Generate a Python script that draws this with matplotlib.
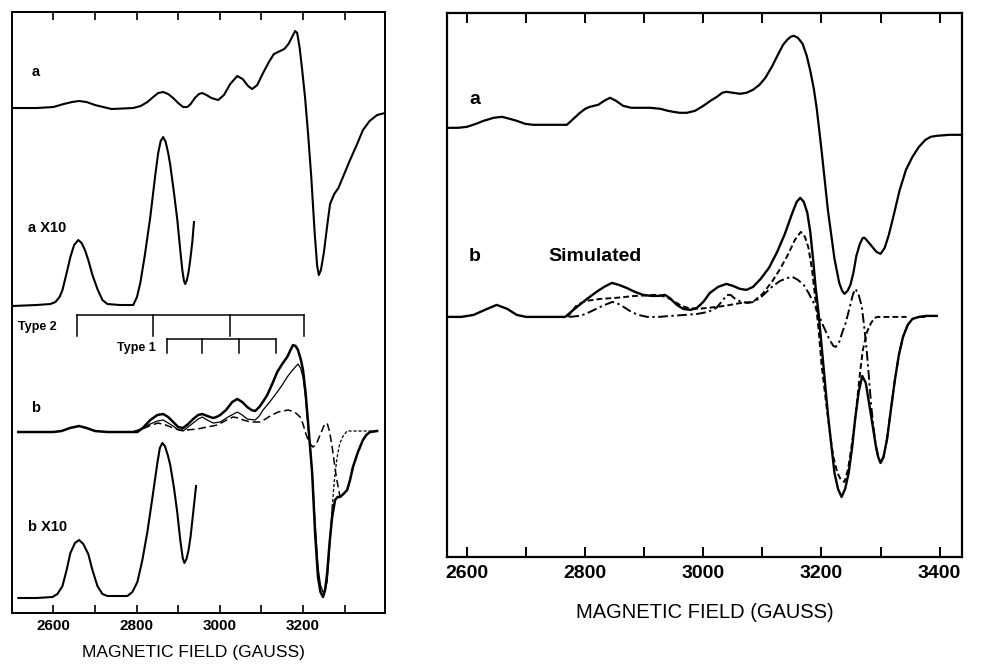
import matplotlib
matplotlib.use("Agg")
import matplotlib.pyplot as plt
import numpy as np

plt.rcParams['font.family'] = ['Liberation Sans', 'DejaVu Sans']
plt.rcParams['lines.solid_joinstyle'] = 'round'
plt.rcParams['lines.dash_joinstyle'] = 'round'

# ---- left panel: recorded spectra (field in gauss, signal in arbitrary units) ----
a_field = [2501, 2560, 2600, 2625, 2645, 2662, 2680, 2700, 2720, 2740, 2792, 2810, 2826,
           2840, 2852, 2864, 2876, 2888, 2900, 2912, 2922, 2930, 2940, 2950, 2958, 2968,
           2980, 2996, 3010, 3025, 3042, 3055, 3068, 3078, 3090, 3104, 3118, 3130, 3145,
           3155, 3165, 3175, 3181, 3186, 3192, 3198, 3205, 3212, 3220, 3228, 3234, 3238,
           3243, 3250, 3258, 3265, 3275, 3285, 3300, 3313, 3330, 3344, 3360, 3378, 3397]
a_sig = [0, 0, 1, 4, 6, 7, 6, 3, 1, -1, 0, 2, 6, 11, 15, 16, 14, 10, 5, 1, 1, 4, 10, 14,
         15, 13, 10, 8, 13, 24, 32, 29, 22, 19, 23, 35, 46, 54, 57, 59, 64, 72, 77, 75,
         60, 38, 10, -25, -70, -125, -158, -167, -162, -145, -118, -96, -86, -80, -65,
         -52, -36, -22, -13, -7, -5]

ax10_field = [2501, 2560, 2593, 2605, 2615, 2622, 2632, 2641, 2650, 2660, 2668, 2676, 2684,
              2694, 2706, 2718, 2730, 2760, 2792, 2801, 2809, 2820, 2833, 2845, 2852, 2858,
              2864, 2870, 2876, 2881, 2890, 2898, 2905, 2910, 2914, 2917, 2921, 2925, 2929,
              2934, 2938]
ax10_sig = [-1, 0, 1, 3, 8, 15, 32, 48, 60, 65, 62, 55, 45, 30, 16, 5, 1, 0, 0, 8, 22, 50,
            88, 130, 152, 164, 168, 163, 152, 140, 112, 85, 55, 35, 24, 21, 25, 33, 45,
            63, 83]

b_field = [2516, 2600, 2620, 2640, 2662, 2680, 2700, 2730, 2802, 2815, 2833, 2850, 2864,
           2876, 2888, 2900, 2912, 2924, 2936, 2948, 2958, 2970, 2984, 2992, 3001, 3015,
           3030, 3042, 3054, 3066, 3076, 3085, 3095, 3105, 3114, 3126, 3138, 3150, 3162,
           3170, 3176, 3182, 3188, 3195, 3200, 3206, 3211, 3217, 3222, 3229, 3236, 3242,
           3248, 3253, 3258, 3264, 3270, 3277, 3283, 3289, 3297, 3306, 3313, 3320, 3332,
           3344, 3352, 3361, 3378]
b_sig = [0, 0, 1, 4, 6, 4, 1, 0, 0, 4, 12, 17, 18, 15, 10, 5, 4, 8, 13, 17, 18, 16, 14,
         15, 17, 22, 30, 33, 30, 25, 22, 21, 25, 31, 37, 48, 60, 68, 75, 82, 87, 86, 82,
         72, 62, 40, 15, -15, -41, -101, -145, -160, -165, -158, -141, -110, -85, -68,
         -65, -65, -62, -58, -48, -35, -20, -8, -3, 0, 1]

# component 1: thin line, its high-field tail is drawn short-dashed
b1_field = [2790, 2810, 2833, 2850, 2864, 2876, 2888, 2900, 2912, 2924, 2936, 2948, 2958,
            2970, 2984, 3001, 3020, 3042, 3054, 3066, 3085, 3095, 3104, 3120, 3138, 3150,
            3162, 3175, 3188, 3194, 3200, 3206, 3211, 3216, 3222, 3229, 3236, 3242, 3248,
            3253, 3258, 3264, 3270]
b1_sig = [0, 3, 8, 11, 12, 9, 6, 2, 1, 5, 9, 13, 15, 12, 9, 10, 15, 20, 17, 13, 12, 16,
          22, 30, 40, 47, 55, 62, 68, 64, 55, 35, 10, -12, -40, -90, -135, -153, -160,
          -158, -150, -115, -75]
b1_tail_field = [3270, 3276, 3282, 3288, 3295, 3300, 3306, 3378]
b1_tail_sig = [-75, -45, -25, -12, -5, -2, 1, 1]

# component 2: long-dashed line
b2_field = [2790, 2809, 2830, 2852, 2870, 2888, 2905, 2920, 2946, 2970, 2994, 3012, 3032,
            3045, 3056, 3075, 3097, 3110, 3121, 3140, 3164, 3180, 3193, 3200, 3207, 3215,
            3224, 3232, 3240, 3250, 3258, 3264, 3270, 3280, 3289, 3297, 3306, 3313, 3320,
            3332, 3344, 3352, 3361, 3378]
b2_sig = [0, 2, 6, 9, 7, 4, 2, 2, 3, 5, 7, 11, 15, 14, 12, 10, 10, 13, 16, 20, 22, 20,
          15, 8, -2, -11, -15, -12, -4, 6, 9, 0, -15, -45, -65, -62, -58, -48, -35, -20,
          -8, -3, 0, 1]

bx10_field = [2516, 2560, 2598, 2610, 2622, 2632, 2641, 2652, 2662, 2672, 2684, 2694, 2706,
              2718, 2730, 2778, 2790, 2802, 2814, 2826, 2838, 2850, 2856, 2862, 2868, 2875,
              2881, 2890, 2898, 2905, 2911, 2915, 2920, 2925, 2930, 2936, 2943]
bx10_sig = [0, 0, 1, 4, 12, 28, 45, 55, 58, 54, 44, 28, 12, 4, 2, 2, 6, 16, 38, 66, 100,
            135, 150, 155, 152, 143, 133, 110, 85, 58, 40, 35, 39, 48, 62, 85, 112]

# hyperfine stick positions (gauss)
type2_lines = [2658, 2840, 3025, 3202]
type1_lines = [2874, 2958, 3046, 3135]

# ---- right panel: observed (a) and simulated (b) spectra ----
ra_field = [2568, 2585, 2600, 2615, 2628, 2645, 2659, 2672, 2684, 2698, 2712, 2740, 2769,
            2780, 2791, 2800, 2808, 2815, 2822, 2832, 2842, 2852, 2864, 2878, 2893, 2910,
            2927, 2940, 2949, 2960, 2972, 2986, 3000, 3012, 3023, 3032, 3039, 3050, 3062,
            3073, 3084, 3095, 3105, 3116, 3127, 3135, 3142, 3148, 3153, 3160, 3168, 3175,
            3181, 3187, 3192, 3200, 3211, 3222, 3230, 3235, 3239, 3244, 3249, 3254, 3259,
            3265, 3270, 3273, 3279, 3286, 3293, 3300, 3307, 3314, 3322, 3332, 3343, 3354,
            3365, 3376, 3385, 3395, 3417, 3437]
ra_sig = [0, 0, 1, 4, 7, 10, 11, 9, 7, 4, 3, 3, 3, 9, 15, 19, 21, 22, 23, 27, 30, 27, 22,
          20, 20, 20, 19, 17, 16, 15, 15, 17, 22, 27, 31, 35, 36, 35, 34, 35, 38, 43, 50,
          61, 74, 83, 88, 91, 92, 90, 84, 72, 57, 39, 19, -22, -83, -131, -155, -163,
          -166, -163, -157, -145, -128, -116, -110, -110, -114, -119, -124, -126, -120,
          -107, -88, -63, -42, -29, -19, -12, -9, -8, -7, -7]

rb_field = [2568, 2590, 2611, 2630, 2650, 2668, 2684, 2700, 2766, 2776, 2786, 2803, 2819,
            2832, 2845, 2857, 2870, 2884, 2898, 2912, 2924, 2935, 2943, 2955, 2966, 2978,
            2989, 3000, 3011, 3025, 3039, 3050, 3062, 3073, 3084, 3097, 3111, 3125, 3138,
            3150, 3158, 3164, 3170, 3176, 3181, 3186, 3190, 3195, 3203, 3211, 3217, 3222,
            3228, 3234, 3240, 3246, 3252, 3257, 3263, 3269, 3275, 3281, 3287, 3292, 3296,
            3300, 3305, 3311, 3317, 3324, 3331, 3338, 3346, 3354, 3365, 3376, 3395]
rb_sig = [0, 0, 2, 7, 12, 8, 2, 0, 0, 5, 10, 18, 25, 30, 34, 32, 29, 25, 22, 21, 21, 22,
          19, 12, 8, 7, 9, 15, 24, 30, 33, 31, 28, 27, 30, 38, 49, 65, 83, 103, 115, 119,
          115, 104, 85, 56, 30, 4, -47, -98, -130, -156, -172, -180, -172, -156, -130,
          -102, -75, -59, -66, -88, -110, -129, -140, -146, -140, -122, -95, -64, -38,
          -20, -8, -2, 0, 1, 1]

rc1_field = [2770, 2778, 2786, 2801, 2826, 2851, 2885, 2918, 2930, 2940, 2952, 2963, 2974,
             2990, 3008, 3036, 3064, 3084, 3100, 3116, 3130, 3143, 3155, 3165, 3172, 3178,
             3184, 3189, 3195, 3200, 3207, 3214, 3220, 3227, 3233, 3239, 3245, 3251, 3257,
             3262, 3266, 3270, 3277, 3284, 3290, 3295, 3344]
rc1_sig = [0, 6, 12, 16, 18, 19, 21, 22, 21, 19, 15, 11, 9, 8, 9, 11, 14, 15, 23, 35, 48,
           62, 77, 85, 80, 69, 47, 21, -12, -47, -82, -115, -140, -156, -163, -165,
           -152, -129, -102, -74, -52, -33, -15, -6, -1, 0, 0]

rc2_field = [2773, 2790, 2801, 2815, 2829, 2846, 2856, 2865, 2878, 2890, 2905, 2924, 2945,
             2969, 2990, 3008, 3022, 3032, 3040, 3046, 3054, 3064, 3075, 3086, 3100, 3116,
             3130, 3143, 3151, 3160, 3170, 3178, 3186, 3194, 3203, 3213, 3220, 3224, 3230,
             3236, 3241, 3248, 3253, 3257, 3262, 3268, 3272, 3276, 3280, 3284, 3288, 3292,
             3296, 3300, 3305, 3311, 3317, 3324, 3331, 3338, 3346, 3354, 3365, 3376]
rc2_sig = [0, 1, 3, 7, 11, 15, 13, 10, 5, 2, 0, 0, 1, 2, 3, 5, 9, 16, 22, 22, 18, 15,
           14, 15, 21, 30, 36, 39, 40, 37, 32, 24, 15, 4, -9, -22, -29, -30, -25, -14, -6,
           10, 22, 28, 24, 11, -8, -30, -58, -88, -110, -129, -140, -146, -140, -122, -95,
           -64, -38, -20, -8, -2, 0, 0]

fig = plt.figure(figsize=(9.91, 6.64), dpi=100)

# left panel
axL = fig.add_axes([0.0118, 0.0768, 0.3767, 0.9051])
axL.set_xlim(2500, 3397)
axL.set_ylim(0, 601)

off_a, off_ax10, off_b, off_bx10 = 505, 308, 181, 15
lw = 1.5
axL.plot(a_field, off_a + np.array(a_sig), color='black', lw=lw)
axL.plot(ax10_field, off_ax10 + np.array(ax10_sig), color='black', lw=lw)
axL.plot(b1_field, off_b + np.array(b1_sig), color='black', lw=0.9)
axL.plot(b1_tail_field, off_b + np.array(b1_tail_sig), color='black', lw=0.9,
         dashes=(2.5, 1.5))
axL.plot(b2_field, off_b + np.array(b2_sig), color='black', lw=1.1, dashes=(5, 2.5))
axL.plot(b_field, off_b + np.array(b_sig), color='black', lw=lw + 0.3)
axL.plot(bx10_field, off_bx10 + np.array(bx10_sig), color='black', lw=lw)

# stick diagrams
y2, y2b = 298, 277
axL.plot([type2_lines[0], type2_lines[-1]], [y2, y2], color='black', lw=1.1)
for f in type2_lines:
    axL.plot([f, f], [y2, y2b], color='black', lw=1.1)
y1, y1b = 274, 260
axL.plot([type1_lines[0], type1_lines[-1]], [y1, y1], color='black', lw=1.1)
for f in type1_lines:
    axL.plot([f, f], [y1, y1b], color='black', lw=1.1)

lab = dict(fontsize=10.5, fontweight='bold', va='center', ha='left')
axL.text(2547, 541, 'a', **lab)
axL.text(2538, 385, 'a X10', **lab)
axL.text(2547, 205, 'b', **lab)
axL.text(2538, 86, 'b X10', **lab)
axL.text(2516, 286, 'Type 2', fontsize=9, fontweight='bold', va='center', ha='left')
axL.text(2752, 265, 'Type 1', fontsize=9, fontweight='bold', va='center', ha='left')

axL.set_xticks([2600, 2800, 3000, 3200])
axL.set_xticks(range(2600, 3301, 100), minor=True)
axL.set_yticks([])
axL.tick_params(axis='x', which='both', direction='in', top=True, length=6, width=1.2,
                labelsize=11, pad=4)
for t in axL.get_xticklabels():
    t.set_fontweight('bold')
for s in axL.spines.values():
    s.set_linewidth(1.4)
fig.text(0.195, 0.018, 'MAGNETIC FIELD (GAUSS)', ha='center', va='center', fontsize=12.5)

# right panel
axR = fig.add_axes([0.4511, 0.1611, 0.5197, 0.8197])
axR.set_xlim(2566, 3438)
axR.set_ylim(0, 544)

off_ra, off_rb = 429, 240
axR.plot(ra_field, off_ra + np.array(ra_sig), color='black', lw=1.6)
axR.plot(rc2_field, off_rb + np.array(rc2_sig), color='black', lw=1.4,
         dashes=(5, 1.8, 1.2, 1.8))
axR.plot(rc1_field, off_rb + np.array(rc1_sig), color='black', lw=1.4, dashes=(3, 1.6))
axR.plot(rb_field, off_rb + np.array(rb_sig), color='black', lw=1.7)

labR = dict(fontsize=14, fontweight='bold', va='center', ha='left')
axR.text(2603, 457, 'a', **labR)
axR.text(2603, 300, 'b', **labR)
axR.text(2738, 300, 'Simulated', **labR)

axR.set_xticks([2600, 2800, 3000, 3200, 3400])
axR.set_xticks(range(2600, 3401, 100), minor=True)
axR.set_yticks([])
axR.tick_params(axis='x', which='both', direction='in', top=True, length=7, width=1.4,
                labelsize=14, pad=6)
for t in axR.get_xticklabels():
    t.set_fontweight('bold')
for s in axR.spines.values():
    s.set_linewidth(1.6)
fig.text(0.711, 0.078, 'MAGNETIC FIELD (GAUSS)', ha='center', va='center', fontsize=14.5)

fig.savefig('out.png', dpi=100)
